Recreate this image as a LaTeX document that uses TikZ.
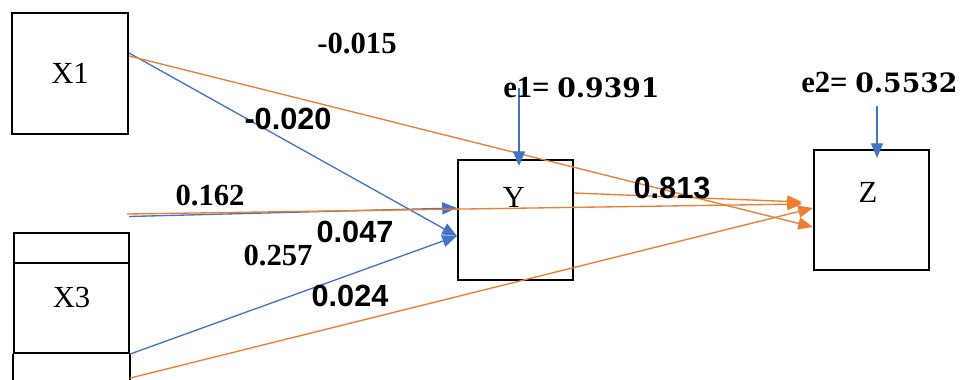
\documentclass[tikz,border=0pt]{standalone}
\usepackage{fontspec}
\setmainfont{Liberation Serif}
\setsansfont{Liberation Sans}
\newfontfamily\numfont{DejaVu Serif}
\usetikzlibrary{arrows.meta,calc}
\definecolor{cblue}{HTML}{4472C4}
\definecolor{corange}{HTML}{ED7D31}
\begin{document}
\begin{tikzpicture}[x=0.75pt,y=-0.75pt,
 box/.style={draw,line width=1.6pt,inner sep=0pt},
 blue arrow/.style={cblue,line width=1pt,-{Triangle[length=11pt,width=9pt]}},
 orange arrow/.style={corange,line width=1pt,-{Triangle[length=11pt,width=9pt]}},
 lab/.style={inner sep=0pt,font=\fontsize{23}{27}\selectfont\bfseries},
 slab/.style={inner sep=0pt,font=\fontsize{23}{27}\selectfont\sffamily\bfseries},
 txt/.style={inner sep=0pt,font=\fontsize{23}{27}\selectfont}]
\useasboundingbox (0,0) rectangle (966,379);
% boxes
\node[box,minimum width=87pt,minimum height=90.75pt,txt] (X1) at (70,73.5) {X1};
\node[box,minimum width=86.25pt,minimum height=22.5pt] (X3top) at (71.5,248) {};
\node[box,minimum width=86.25pt,minimum height=67.5pt] (X3) at (71.5,308) {};
\node[txt] (X3t) at (71.5,297) {X3};
\draw[line width=1.6pt] (X3.south west) -- ++(0,30);
\draw[line width=1.6pt] (X3.south east) -- ++(0,30);
\node[box,minimum width=86.25pt,minimum height=90pt] (Y) at (515.5,220) {};
\node[txt] (Yt) at (514,197) {Y};
\node[box,minimum width=86.25pt,minimum height=90pt] (Z) at (871.5,210) {};
\node[txt] (Zt) at (868,192.5) {Z};
% free ends
\coordinate (a2b) at (129,216.5);
\coordinate (a2o) at (127,214);
\coordinate (e1s) at (519,88);
\coordinate (e2s) at (877,106);
% connectors
\draw[blue arrow] ($(X1.east)+(0,-20.5)$) -- ($(Y.west)+(0,16)$);
\draw[orange arrow] ($(X1.east)+(0,-17.5)$) -- ($(Z.west)+(0,17)$);
\draw[blue arrow] (a2b) -- ($(Y.west)+(0,-12)$);
\draw[orange arrow] (a2o) -- ($(Z.west)+(-11,-6)$);
\draw[orange arrow] ($(Y.east)+(0,-27)$) -- ($(Z.west)+(-11,-8)$);
\draw[blue arrow] (X3.south east) -- ($(Y.west)+(0,16)$);
\draw[orange arrow] ($(X3.south east)+(0,24)$) -- ($(Z.west)+(0,-2)$);
\draw[blue arrow] (e1s) -- ($(Y.north)+(3.5,7)$);
\draw[blue arrow] (e2s) -- ($(Z.north)+(5.5,9)$);
% labels
\node[lab] (l1) at (357,44) {-0.015};
\node[slab] (l2) at (288,119) {-0.020};
\node[lab] (l3) at (210,196) {0.162};
\node[slab] (l4) at (355,232) {0.047};
\node[lab] (l5) at (278,256) {0.257};
\node[slab] (l6) at (350,296) {0.024};
\node[slab] (l7) at (672,188) {0.813};
\node[lab,anchor=base west] (e1) at (503,97) {e1= {\numfont\fontsize{20}{24}\selectfont 0.9391}};
\node[lab,anchor=base west] (e2) at (801,92) {e2= {\numfont\fontsize{20}{24}\selectfont 0.5532}};
\end{tikzpicture}
\end{document}
